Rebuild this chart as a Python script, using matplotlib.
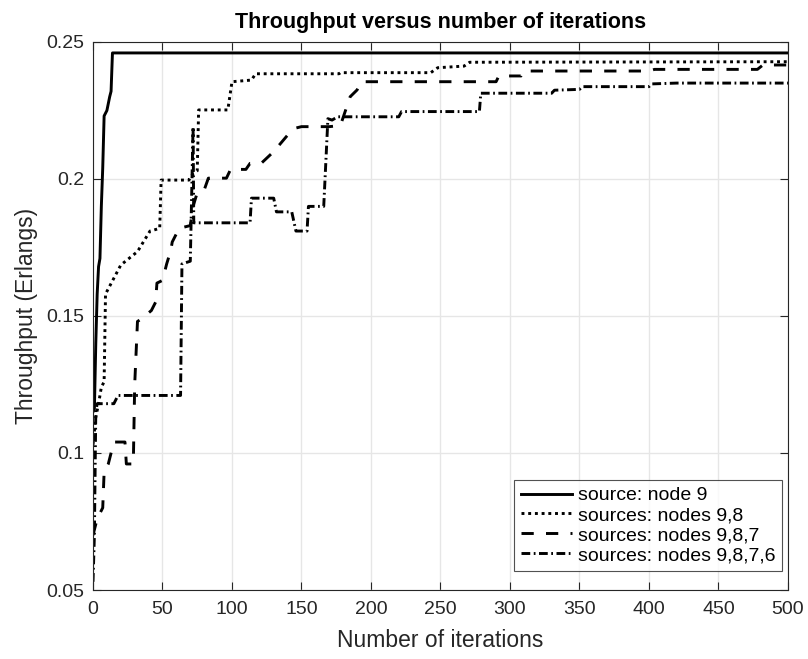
import matplotlib
matplotlib.use('Agg')
import matplotlib.pyplot as plt

plt.rcParams['font.family'] = ['Liberation Sans', 'DejaVu Sans']

# source: node 9
it_1 = [0, 1, 2, 3, 4, 5, 6, 7, 8, 10, 12, 13, 14, 500]
thr_1 = [0.115, 0.116, 0.14, 0.158, 0.168, 0.171, 0.19, 0.204, 0.223, 0.225, 0.23, 0.232, 0.246, 0.246]

# sources: nodes 9,8
it_2 = [0, 2, 4, 6, 8, 9, 20, 32, 41, 44, 48, 49, 69, 72, 75, 76, 97, 100, 114, 117,
        177, 178, 243, 248, 267, 271, 500]
thr_2 = [0.103, 0.113, 0.118, 0.124, 0.126, 0.158, 0.1686, 0.1735, 0.181, 0.1814, 0.182, 0.1996,
         0.1996, 0.202, 0.203, 0.2252, 0.2252, 0.2355, 0.2361, 0.2384,
         0.2384, 0.2388, 0.2388, 0.2406, 0.2412, 0.2426, 0.2428]

# sources: nodes 9,8,7
it_3 = [0, 3, 7, 8, 11, 15, 23, 24, 29, 30, 32, 35, 42, 45, 46, 50, 53, 56, 57, 62, 70,
        72, 75, 80, 83, 96, 99, 110, 113, 121, 130, 134, 140, 146, 150, 170, 178, 182, 185,
        190, 193, 290, 292, 308, 310, 400, 404, 478, 482, 500]
thr_3 = [0.07, 0.076, 0.08, 0.093, 0.096, 0.104, 0.104, 0.096, 0.096, 0.125, 0.148, 0.149,
         0.152, 0.155, 0.162, 0.163, 0.169, 0.174, 0.177, 0.182, 0.183,
         0.19, 0.195, 0.196, 0.2003, 0.2003, 0.2035, 0.2035, 0.2057, 0.2057, 0.21, 0.2124,
         0.216, 0.2186, 0.2191, 0.2191, 0.2195, 0.2255, 0.23,
         0.2325, 0.2355, 0.2355, 0.2376, 0.2376, 0.2394, 0.2394, 0.24, 0.24, 0.2416, 0.2416]

# sources: nodes 9,8,7,6
it_4 = [0, 1, 2, 3, 15, 18, 63, 64, 70, 72, 72.5, 113, 114, 130, 132, 143, 146, 154, 155,
        166, 169, 172, 176, 220, 222, 278, 279, 330, 332, 350, 352, 400, 402, 420, 500]
thr_4 = [0.053, 0.07, 0.115, 0.118, 0.118, 0.121, 0.121, 0.169, 0.17, 0.219, 0.184, 0.184,
         0.193, 0.193, 0.188, 0.188, 0.181, 0.181, 0.19, 0.19, 0.222, 0.2215, 0.2227, 0.2227,
         0.2246, 0.2246, 0.2313, 0.2313, 0.2324, 0.2327, 0.2337, 0.2337, 0.2347, 0.235, 0.235]

labels = ['source: node 9', 'sources: nodes 9,8', 'sources: nodes 9,8,7',
          'sources: nodes 9,8,7,6']

fig = plt.figure(figsize=(8.08, 6.59), dpi=100)
ax = fig.add_axes([0.1151, 0.1047, 0.8601, 0.8316])

lw = 2.1
ax.plot(it_1, thr_1, color='k', lw=lw, label=labels[0])
ax.plot(it_2, thr_2, color='k', lw=lw, dashes=(1, 1.3), label=labels[1])
ax.plot(it_3, thr_3, color='k', lw=lw, dashes=(4.2, 4.2), label=labels[2])
ax.plot(it_4, thr_4, color='k', lw=lw, dashes=(3, 1.2, 0.6, 1.2), label=labels[3])

ax.set_xlim(0, 500)
ax.set_ylim(0.05, 0.25)
ax.set_xticks(range(0, 501, 50))
ax.set_yticks([0.05, 0.1, 0.15, 0.2, 0.25])
ax.set_yticklabels(['0.05', '0.1', '0.15', '0.2', '0.25'])
ax.grid(True, color='#e6e6e6', lw=1)
ax.set_axisbelow(True)
ax.tick_params(direction='in', top=True, right=True, labelsize=14, colors='#262626',
               length=6, width=0.8)
ax.tick_params(axis='x', pad=8)
ax.tick_params(axis='y', pad=6)
for s in ax.spines.values():
    s.set_color('#262626')
    s.set_linewidth(0.8)

ax.set_xlabel('Number of iterations', fontsize=16.5, color='#262626', labelpad=8)
ax.set_ylabel('Throughput (Erlangs)', fontsize=16.5, color='#262626', labelpad=6)
ax.set_title('Throughput versus number of iterations', fontsize=15.5, fontweight='bold',
             pad=10)

leg = ax.legend(loc='lower right', bbox_to_anchor=(0.9914, 0.0347), borderaxespad=0,
                fontsize=14, handlelength=2.6, handletextpad=0.3, borderpad=0.35,
                labelspacing=0.12, frameon=True, fancybox=False, edgecolor='#262626')
leg.get_frame().set_linewidth(0.8)

fig.savefig('out.png', dpi=100)
